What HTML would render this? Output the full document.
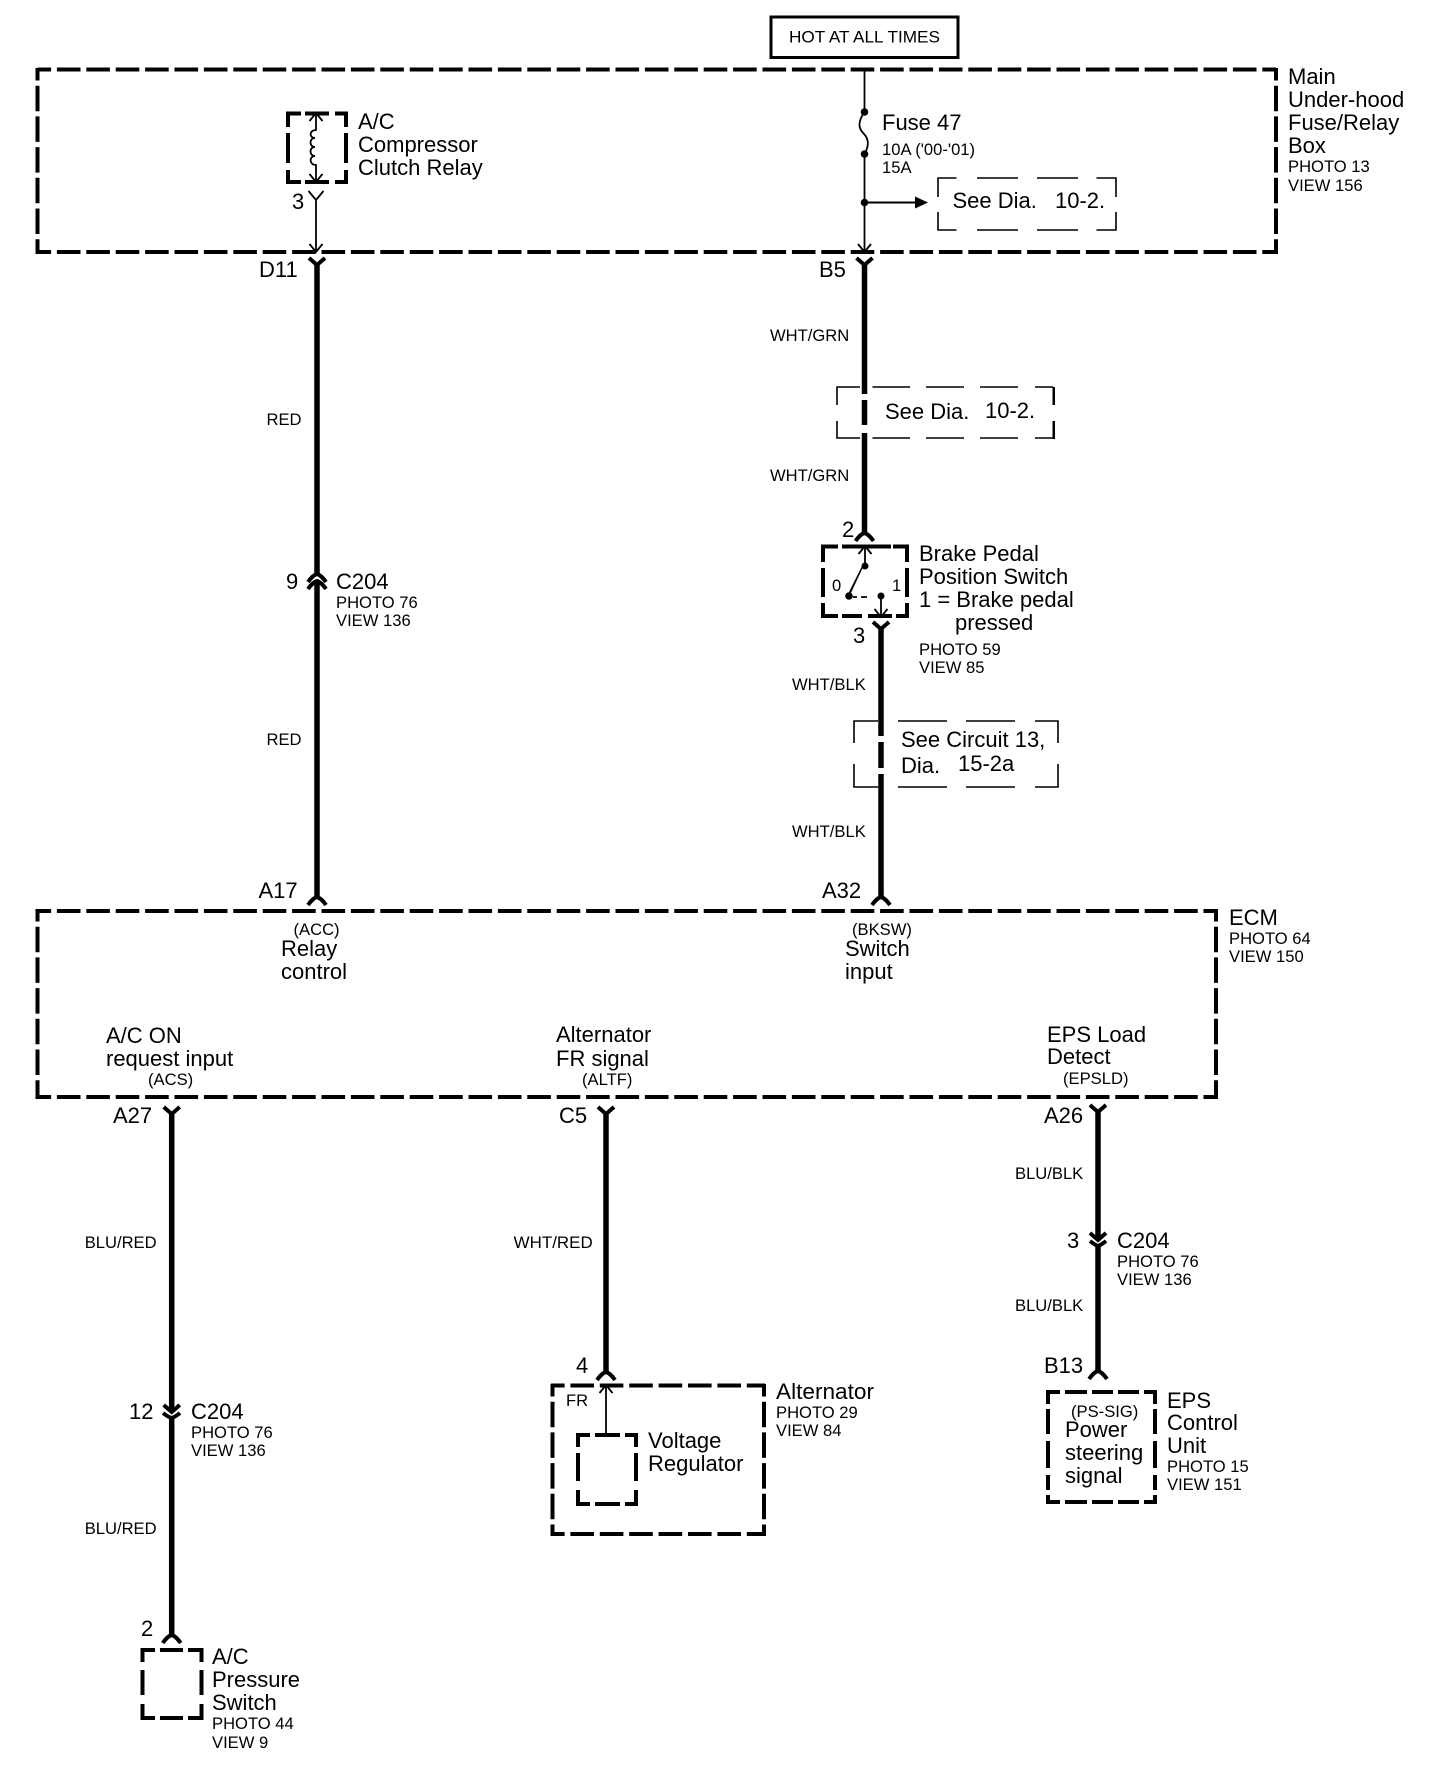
<!DOCTYPE html>
<html><head><meta charset="utf-8"><title>Diagram</title>
<style>
html,body{margin:0;padding:0;background:#fff}
svg{display:block}
text{font-family:"Liberation Sans",sans-serif;fill:#000;font-size:22px}
text.s{font-size:16.6px}
.d{fill:none;stroke:#000;stroke-width:4}
.h{stroke-dasharray:23.6 5.8;stroke-dashoffset:10}
.v{stroke-dasharray:25.5 5.2;stroke-dashoffset:13}
.t{fill:none;stroke:#000;stroke-width:1.6}
.w{fill:none;stroke:#000;stroke-width:5.5}
.c{fill:none;stroke:#000;stroke-width:4}
.a{fill:none;stroke:#000;stroke-width:1.8}
</style></head>
<body>
<svg width="1440" height="1776" viewBox="0 0 1440 1776" xmlns="http://www.w3.org/2000/svg">
<defs>
<path id="y" class="c" d="M-8,-7 L0,0 L8,-7"/>
<path id="ar" class="c" d="M-9,8 Q-4,1 0,0 Q4,1 9,8"/>
<path id="up" class="a" d="M-6.5,8 L0,0 L6.5,8"/>
<path id="dn" class="a" d="M-6.5,-8 L0,0 L6.5,-8"/>
</defs>

<!-- HOT box -->
<rect x="771" y="17" width="187" height="40.500" fill="none" stroke="#000" stroke-width="3"/>
<text class="s" x="789" y="42.500" textLength="151" lengthAdjust="spacingAndGlyphs">HOT AT ALL TIMES</text>

<!-- Main box -->
<path class="d h" d="M37.500,69.500 H1276"/>
<path class="d h" d="M37.500,252 H1276"/>
<path class="d v" d="M37.500,68 V254"/>
<path class="d v" d="M1276,68 V254"/>

<!-- Relay box -->
<path class="d" d="M288,127 V113.500 H301 M305,113.500 H329 M335,113.500 H346 V127 M288,133 V163 M346,133 V163 M288,170 V182 H301 M305,182 H329 M335,182 H346 V170"/>
<path class="a" d="M316,112 V130 C309,130 309,138 315,138 C309,138 309,147 315,147 C309,147 309,156 315,156 C309,156 309,165 316,165 V183"/>
<use href="#up" x="316" y="113"/>
<use href="#dn" x="316" y="182"/>
<path class="a" d="M308.500,191 L316,200 L323.500,191 M316,200 V252"/>
<use href="#dn" x="316" y="252"/>
<text x="292" y="209">3</text>
<text x="358" y="129">A/C</text>
<text x="358" y="152">Compressor</text>
<text x="358" y="175">Clutch Relay</text>

<!-- Fuse wire -->
<path class="a" d="M864.500,70 V112 C856,124 860,130 864,134 C870,140 868,148 864.500,154 V252"/>
<circle cx="864.500" cy="112" r="3.800"/>
<circle cx="864.500" cy="154" r="3.800"/>
<circle cx="864.500" cy="202.500" r="3.800"/>
<path d="M864,201.500 H916 V203.500 H864 Z"/>
<path d="M915,196.500 L928,202.500 L915,208.500 Z"/>
<use href="#dn" x="864.500" y="252"/>
<text x="882" y="130">Fuse 47</text>
<text class="s" x="882" y="155">10A ('00-'01)</text>
<text class="s" x="882" y="173">15A</text>
<text x="1288" y="84">Main</text>
<text x="1288" y="107">Under-hood</text>
<text x="1288" y="130">Fuse/Relay</text>
<text x="1288" y="153">Box</text>
<text class="s" x="1288" y="172">PHOTO 13</text>
<text class="s" x="1288" y="191">VIEW 156</text>

<!-- See Dia box 1 -->
<path class="t" d="M938,197 V178 H956.500 M977,178 H1018 M1037,178 H1078 M1096.500,178 H1116 V197 M938,212 V230 H956.500 M977,230 H1018 M1037,230 H1078 M1096.500,230 H1116 V212"/>
<text x="952.500" y="208">See Dia.</text>
<text x="1055" y="208">10-2.</text>

<!-- Left wire -->
<use href="#y" x="317" y="265"/>
<path class="w" d="M317,263 V575 M317,582 V897"/>
<use href="#ar" x="317" y="574"/>
<use href="#ar" x="317" y="581"/>
<use href="#ar" x="317" y="897"/>
<text x="259" y="277">D11</text>
<text class="s" x="266.500" y="425">RED</text>
<text class="s" x="266.500" y="745">RED</text>
<text x="286" y="589">9</text>
<text x="336" y="589">C204</text>
<text class="s" x="336" y="608">PHOTO 76</text>
<text class="s" x="336" y="626">VIEW 136</text>
<text x="258.500" y="898">A17</text>

<!-- Brake wire -->
<use href="#y" x="864.500" y="265"/>
<path class="w" d="M864.500,263 V394 M864.500,400 V425 M864.500,433 V534"/>
<use href="#ar" x="864.500" y="533"/>
<text x="819" y="277">B5</text>
<text class="s" x="770" y="341">WHT/GRN</text>
<text class="s" x="770" y="481">WHT/GRN</text>
<text x="842" y="537">2</text>

<!-- See Dia box 2 -->
<path class="t" d="M837,405 V387 H860 M872.500,387 H910 M926,387 H964 M980,387 H1018 M1035,387 H1053"/>
<path class="t" d="M837,421 V438 H860 M872.500,438 H910 M926,438 H964 M980,438 H1018 M1035,438 H1053"/>
<path d="M1052.500,387 H1055 V405 H1052.500 Z M1052.500,421 H1055 V439 H1052.500 Z"/>
<text x="885" y="419">See Dia.</text>
<text x="985" y="418">10-2.</text>

<!-- Switch -->
<path class="d" d="M823,562 V546.500 H838 M842,546.500 H891 M893,546.500 H907 V562 M823,568 V597 M907,568 V597 M823,603 V616 H838 M842,616 H862 M868,616 H892 M896,616 H907 V603"/>
<path class="a" d="M865,546 V566"/>
<use href="#up" x="865" y="546"/>
<circle cx="865" cy="566" r="3.500"/>
<path d="M864,565 L850,595 L848,594 L863,564 Z"/>
<circle cx="849" cy="596" r="3.800"/>
<path d="M853,597 H857 M861,597 H867" stroke="#000" stroke-width="1.800"/>
<circle cx="881" cy="596" r="3.500"/>
<path class="a" d="M881,596 V617"/>
<use href="#dn" x="881" y="617"/>
<text class="s" x="832" y="591">0</text>
<text class="s" x="892" y="591">1</text>
<text x="919" y="561">Brake Pedal</text>
<text x="919" y="584">Position Switch</text>
<text x="919" y="607">1 = Brake pedal</text>
<text x="955" y="630">pressed</text>
<text class="s" x="919" y="655">PHOTO 59</text>
<text class="s" x="919" y="673">VIEW 85</text>
<text x="853" y="643">3</text>

<!-- Lower brake wire -->
<use href="#y" x="881" y="629"/>
<path class="w" d="M881,627 V736 M881,742 V768 M881,774 V898"/>
<use href="#ar" x="881" y="897"/>
<text class="s" x="792" y="690">WHT/BLK</text>
<text class="s" x="792" y="837">WHT/BLK</text>
<text x="822" y="898">A32</text>

<!-- Circuit box -->
<path class="t" d="M854,743 V721 H878 M898,721 H947 M966,721 H1015 M1035,721 H1058 V743 M854,764 V787 H878 M898,787 H947 M966,787 H1015 M1035,787 H1058 V764"/>
<text x="901" y="747">See Circuit 13,</text>
<text x="901" y="773">Dia.</text>
<text x="958" y="771">15-2a</text>

<!-- ECM box -->
<path class="d h" d="M37.500,911 H1216"/>
<path class="d h" d="M37.500,1097 H1216"/>
<path class="d v" d="M37.500,909 V1099"/>
<path class="d v" d="M1216,909 V1099"/>
<text class="s" x="293.500" y="935">(ACC)</text>
<text x="281" y="956">Relay</text>
<text x="281" y="979">control</text>
<text class="s" x="852" y="935">(BKSW)</text>
<text x="845" y="956">Switch</text>
<text x="845" y="979">input</text>
<text x="106" y="1043">A/C ON</text>
<text x="106" y="1066">request input</text>
<text class="s" x="148" y="1085">(ACS)</text>
<text x="556" y="1042">Alternator</text>
<text x="556" y="1066">FR signal</text>
<text class="s" x="582" y="1085">(ALTF)</text>
<text x="1047" y="1042">EPS Load</text>
<text x="1047" y="1064">Detect</text>
<text class="s" x="1063" y="1084">(EPSLD)</text>
<text x="1229" y="925">ECM</text>
<text class="s" x="1229" y="944">PHOTO 64</text>
<text class="s" x="1229" y="962">VIEW 150</text>

<!-- BLU/RED wire -->
<use href="#y" x="171.700" y="1114"/>
<path class="w" d="M171.700,1112 V1412 M171.700,1418 V1636"/>
<use href="#y" x="171.700" y="1412"/>
<path class="c" d="M163,1413 Q168,1417 171.700,1418 Q175,1417 180,1413"/>
<use href="#ar" x="171.700" y="1635"/>
<text x="113" y="1123">A27</text>
<text class="s" x="84.700" y="1248">BLU/RED</text>
<text x="129" y="1419">12</text>
<text x="191" y="1419">C204</text>
<text class="s" x="191" y="1438">PHOTO 76</text>
<text class="s" x="191" y="1456">VIEW 136</text>
<text class="s" x="84.700" y="1534">BLU/RED</text>
<text x="141" y="1636">2</text>
<path class="d" d="M142.500,1662 V1650 H155 M160,1650 H183 M188,1650 H201.500 V1662 M142.500,1670 V1695 M201.500,1670 V1695 M142.500,1704 V1718 H155 M160,1718 H183 M188,1718 H201.500 V1704"/>
<text x="212" y="1664">A/C</text>
<text x="212" y="1687">Pressure</text>
<text x="212" y="1710">Switch</text>
<text class="s" x="212" y="1729">PHOTO 44</text>
<text class="s" x="212" y="1748">VIEW 9</text>

<!-- WHT/RED wire -->
<use href="#y" x="606" y="1114"/>
<path class="w" d="M606,1112 V1373"/>
<use href="#ar" x="606" y="1372"/>
<text x="559" y="1123">C5</text>
<text class="s" x="513.700" y="1248" textLength="79" lengthAdjust="spacingAndGlyphs">WHT/RED</text>
<text x="576" y="1373">4</text>
<path class="d h" d="M551,1385.500 H765"/>
<path class="d h" d="M551,1534 H765"/>
<path class="d v" d="M552.500,1384 V1536"/>
<path class="d v" d="M764,1384 V1536"/>
<text class="s" x="566" y="1406">FR</text>
<path class="a" d="M606,1385 V1433"/>
<use href="#up" x="606" y="1385"/>
<path class="d" d="M578,1447 V1435 H590 M595,1435 H620 M625,1435 H636 V1447 M578,1453 V1481 M636,1453 V1481 M578,1490 V1504 H590 M595,1504 H620 M625,1504 H636 V1490"/>
<text x="648" y="1448">Voltage</text>
<text x="648" y="1471">Regulator</text>
<text x="776" y="1399" textLength="98" lengthAdjust="spacingAndGlyphs">Alternator</text>
<text class="s" x="776" y="1418">PHOTO 29</text>
<text class="s" x="776" y="1436">VIEW 84</text>

<!-- BLU/BLK wire -->
<use href="#y" x="1098" y="1112"/>
<path class="w" d="M1098,1110 V1240 M1098,1246 V1372"/>
<use href="#y" x="1098" y="1240"/>
<path class="c" d="M1090,1241 Q1095,1245 1098,1246 Q1101,1245 1106,1241"/>
<use href="#ar" x="1098" y="1371"/>
<text x="1044" y="1123">A26</text>
<text class="s" x="1015" y="1179">BLU/BLK</text>
<text x="1067" y="1248">3</text>
<text x="1117" y="1248">C204</text>
<text class="s" x="1117" y="1267">PHOTO 76</text>
<text class="s" x="1117" y="1285">VIEW 136</text>
<text class="s" x="1015" y="1311">BLU/BLK</text>
<text x="1044" y="1373">B13</text>

<!-- EPS box -->
<path class="d" d="M1048,1404 V1392 H1060 M1065,1392 H1087 M1092,1392 H1113 M1118,1392 H1139 M1144,1392 H1155 V1404 M1048,1409 V1434 M1155,1409 V1434 M1048,1441 V1468 M1155,1441 V1468 M1048,1475 V1490 M1155,1475 V1490 M1048,1495 V1502 H1060 M1065,1502 H1087 M1092,1502 H1113 M1118,1502 H1139 M1144,1502 H1155 V1495"/>
<text class="s" x="1071" y="1417">(PS-SIG)</text>
<text x="1065" y="1437">Power</text>
<text x="1065" y="1460">steering</text>
<text x="1065" y="1483">signal</text>
<text x="1167" y="1408">EPS</text>
<text x="1167" y="1430">Control</text>
<text x="1167" y="1453">Unit</text>
<text class="s" x="1167" y="1472">PHOTO 15</text>
<text class="s" x="1167" y="1490">VIEW 151</text>
</svg>
</body></html>
